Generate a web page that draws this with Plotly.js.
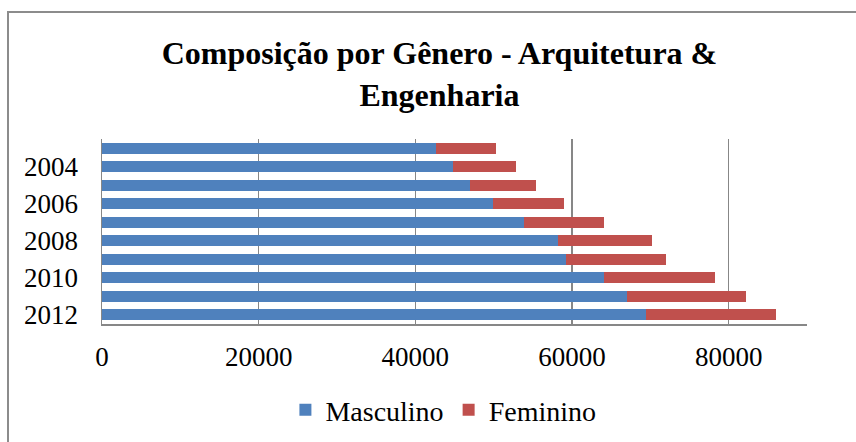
<!DOCTYPE html>
<html>
<head>
<meta charset="utf-8">
<script src="https://cdn.plot.ly/plotly-3.0.1.min.js"></script>
<style>
html,body{margin:0;padding:0;background:#fff;overflow:hidden;}
#wrap{position:relative;width:856px;height:442px;}
#chart{width:856px;height:442px;}
#frame{position:absolute;left:7px;top:11px;width:900px;height:500px;border:2px solid #8c8c8c;pointer-events:none;}
</style>
</head>
<body>
<div id="wrap"><div id="chart"></div><div id="frame"></div></div>
<script>
const years = [2003, 2004, 2005, 2006, 2007, 2008, 2009, 2010, 2011, 2012];
const masculino = [42700, 44840, 46920, 49950, 53810, 58200, 59270, 64080, 67050, 69490];
const feminino = [7600, 8020, 8430, 9080, 10330, 12060, 12770, 14190, 15200, 16510];
const yTickVals = [2004, 2006, 2008, 2010, 2012];
const yTickText = ['2004', '2006', '2008', '2010', '2012'];
const xTickVals = [0, 20000, 40000, 60000, 80000];

const serif = "'Liberation Serif'";

const data = [
  {type: 'bar', orientation: 'h', name: 'Masculino', y: years, x: masculino,
   marker: {color: '#4F81BD'}},
  {type: 'bar', orientation: 'h', name: 'Feminino', y: years, x: feminino,
   marker: {color: '#C0504D'}}
];

const layout = {
  width: 856, height: 442,
  paper_bgcolor: '#ffffff', plot_bgcolor: '#ffffff',
  barmode: 'stack', bargap: 0.38,
  margin: {l: 102, r: 49, t: 139, b: 118},
  title: {
    text: '<b>Composição por Gênero - Arquitetura &amp;<br>Engenharia</b>',
    font: {family: serif, size: 32, color: '#000'},
    x: 0.5134, xref: 'container', xanchor: 'center',
    y: 1 - 64/442, yref: 'container', yanchor: 'middle'
  },
  xaxis: {
    range: [0, 90000], tickvals: xTickVals, ticktext: xTickVals.map(String),
    showgrid: true, gridcolor: '#878787', gridwidth: 1.5,
    zeroline: false, showline: true, linecolor: '#878787', linewidth: 1.5,
    ticks: '', ticklabelstandoff: 8,
    tickfont: {family: serif, size: 27, color: '#000'}
  },
  yaxis: {
    range: [2012.5, 2002.5], tickvals: yTickVals, ticktext: yTickText,
    showgrid: false, zeroline: false, showline: true, linecolor: '#878787', linewidth: 1.5,
    ticks: '', ticklabelstandoff: 17,
    tickfont: {family: serif, size: 27, color: '#000'}
  },
  legend: {
    orientation: 'h', x: 0.518, xref: 'container', xanchor: 'center',
    y: 1 - 410/442, yref: 'container', yanchor: 'middle',
    font: {family: serif, size: 28, color: '#000'},
    itemwidth: 30, traceorder: 'normal'
  },
  showlegend: true
};

Plotly.newPlot('chart', data, layout, {displayModeBar: false, staticPlot: true});
</script>
</body>
</html>
